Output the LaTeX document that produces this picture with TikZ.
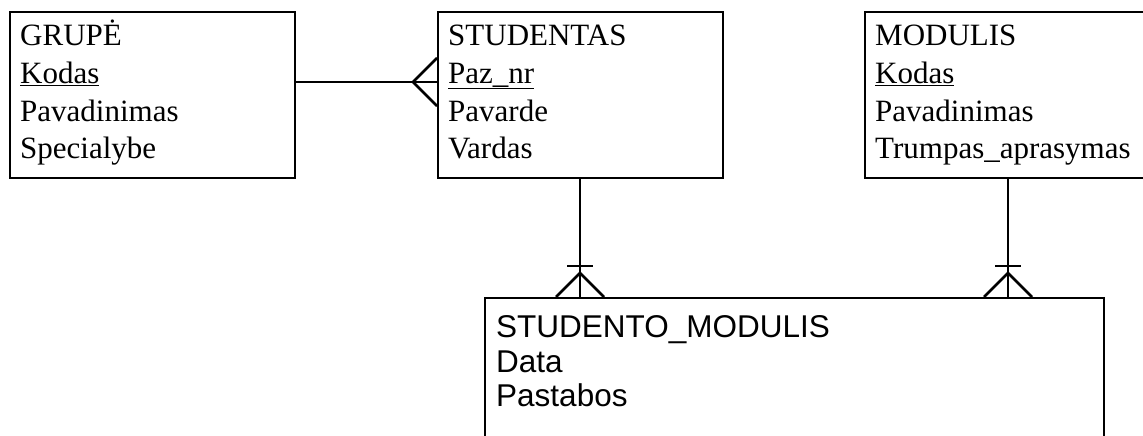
\documentclass[tikz,border=0pt]{standalone}
\usepackage{fontspec}
\setmainfont{Liberation Serif}
\newfontfamily\arialfont{Liberation Sans}
\begin{document}
\begin{tikzpicture}[x=1pt,y=-1pt,
  box/.style={draw=black,line width=1.7pt,rectangle,inner sep=0pt,anchor=north west},
  attr/.style={anchor=base west,inner sep=0pt,font=\fontsize{31}{36}\selectfont},
  sattr/.style={anchor=base west,inner sep=0pt,font=\arialfont\fontsize{31.5}{35}\selectfont},
  conn/.style={line width=2.8pt},
]
\useasboundingbox (0,0) rectangle (1143,436);
\begin{scope}
\clip (0,0) rectangle (1143,436);
% boxes
\node[box,minimum width=285pt,minimum height=166pt] (grupe) at (9,11) {};
\node[box,minimum width=285pt,minimum height=166pt] (stud) at (437,11) {};
\node[box,minimum width=300pt,minimum height=166pt] (modul) at (864,11) {};
\node[box,minimum width=619pt,minimum height=200pt] (sm) at (484,297) {};
\end{scope}
% texts
\node[attr] (g1) at (20,46) {GRUPĖ};
\node[attr] (g2) at (20,83) {\underline{Kodas}};
\node[attr] (g3) at (20,121) {Pavadinimas};
\node[attr] (g4) at (20,158) {Specialybe};
\node[attr] (s1) at (448,46) {STUDENTAS};
\node[attr] (s2) at (448,83) {\underline{Paz\_nr}};
\node[attr] (s3) at (448,121) {Pavarde};
\node[attr] (s4) at (448,158) {Vardas};
\node[attr] (m1) at (875,46) {MODULIS};
\node[attr] (m2) at (875,83) {\underline{Kodas}};
\node[attr] (m3) at (875,121) {Pavadinimas};
\node[attr] (m4) at (875,158) {Trumpas\_aprasymas};
\node[sattr] (t1) at (496,337) {STUDENTO\_MODULIS};
\node[sattr] (t2) at (496,372) {Data};
\node[sattr] (t3) at (496,406) {Pastabos};
% connector GRUPE - STUDENTAS
\coordinate (ga) at (grupe.east |- 0,82);
\coordinate (sa) at (stud.west |- 0,82);
\draw[conn] (ga) -- (sa);
\draw[conn] ([yshift=-24pt]sa) -- ([xshift=-24pt]sa) -- ([yshift=24pt]sa);
% connector STUDENTAS - STUDENTO_MODULIS
\coordinate (sb) at (stud.south -| 580,0);
\coordinate (smA) at (sm.north -| 580,0);
\draw[conn] (sb) -- (smA);
\draw[conn] ([xshift=-13pt,yshift=31pt]smA) -- ([xshift=13pt,yshift=31pt]smA);
\draw[conn] ([xshift=-24pt]smA) -- ([yshift=24pt]smA) -- ([xshift=24pt]smA);
% connector MODULIS - STUDENTO_MODULIS
\coordinate (mb) at (modul.south -| 1008,0);
\coordinate (smB) at (sm.north -| 1008,0);
\draw[conn] (mb) -- (smB);
\draw[conn] ([xshift=-13pt,yshift=31pt]smB) -- ([xshift=13pt,yshift=31pt]smB);
\draw[conn] ([xshift=-24pt]smB) -- ([yshift=24pt]smB) -- ([xshift=24pt]smB);
\end{tikzpicture}
\end{document}
